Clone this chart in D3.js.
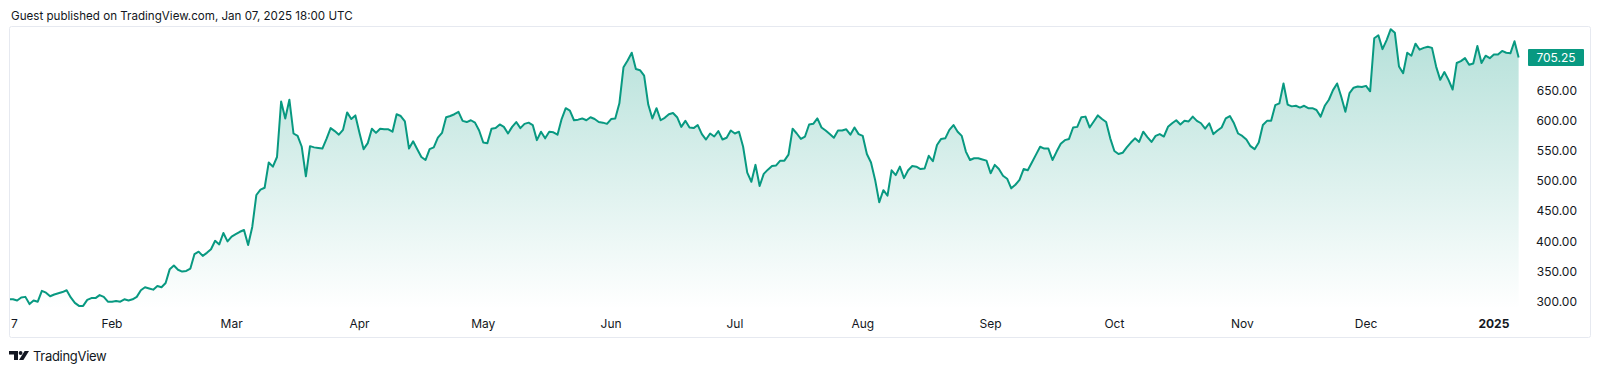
<!DOCTYPE html>
<html><head><meta charset="utf-8">
<script src="https://cdn.jsdelivr.net/npm/d3@7"></script>
<style>html,body{margin:0;padding:0;background:#fff;overflow:hidden}svg{display:block;font-family:Inter,"Noto Sans",sans-serif}</style>
</head><body><svg id="c" width="1600" height="372"></svg>
<script>
// ---- data ----
const startDate = "2024-01-07";
const closes = [
304,304,302,307,308,296,302,300,318,315,
309,312,314,316,319,307,298,293,293,303,
306,306,311,308,300,300,301,300,304,302,
304,308,319,324,322,320,326,324,331,354,
360,353,350,351,355,379,383,376,381,387,
401,395,414,400,408,412,416,419,394,424,
477,486,489,531,524,540,632,604,635,579,
575,557,508,558,556,555,554,570,588,583,
577,585,614,603,609,580,553,563,587,580,
587,586,586,582,611,608,599,554,566,553,
540,535,553,556,572,580,606,608,611,615,
600,598,601,597,584,564,563,587,588,594,
590,579,590,598,588,595,597,593,568,582,
571,582,581,577,603,621,617,601,602,604,
601,606,603,598,597,595,603,604,629,689,
700,713,686,684,675,627,604,621,601,605,
611,613,606,590,600,589,588,593,578,569,
579,574,583,569,572,584,579,582,557,514,
499,527,492,512,519,525,526,534,534,544,
587,579,570,574,594,595,604,589,584,578,
572,584,584,586,577,589,578,575,545,531,
502,465,485,476,518,510,524,505,518,525,
524,520,521,542,533,560,570,571,585,593,
582,575,549,535,538,538,536,534,513,527,
520,509,504,488,494,502,520,518,531,544,
557,554,554,535,549,562,568,570,589,590,
606,607,589,599,609,603,598,571,550,545,
547,556,564,571,565,582,573,565,575,578,
574,590,596,601,594,600,599,607,600,596,
587,596,578,584,589,604,608,596,579,575,
569,558,553,564,593,600,600,626,629,662,
627,624,625,622,625,621,621,618,607,625,
635,651,662,640,615,646,655,657,656,658,
649,737,742,719,734,752,746,690,679,713,
708,728,718,721,723,721,690,668,681,668,
652,696,699,704,693,695,724,696,708,704,
710,710,716,713,712,732,705.25
];
const yTickValues = [300,350,400,450,500,550,600,650];
const xTickDates = ["2024-01-07","2024-02-01","2024-03-01","2024-04-01","2024-05-01","2024-06-01","2024-07-01","2024-08-01","2024-09-01","2024-10-01","2024-11-01","2024-12-01","2025-01-01"];
const xTickLabels = ["7","Feb","Mar","Apr","May","Jun","Jul","Aug","Sep","Oct","Nov","Dec","2025"];
const lastPrice = 705.25;
const headerText = "Guest published on TradingView.com, Jan 07, 2025 18:00 UTC";
const brandText = "TradingView";

// ---- chart ----
const svg = d3.select("#c");
const lineColor = "#089981";
const textColor = "#131722";
const frame = {x:9.5, y:26.5, w:1581, h:311};
const paneBottom = 309;
const parse = d3.utcParse("%Y-%m-%d");
const start = parse(startDate);
const data = closes.map((v,i)=>({date:d3.utcDay.offset(start,i), v}));

const x = d3.scaleUtc().domain([parse("2024-02-01"), parse("2024-12-01")]).range([112,1366]);
const y = d3.scaleLinear().domain([300,650]).range([301.7,90.7]);

svg.append("text").attr("x",11).attr("y",19.5).attr("fill",textColor)
  .attr("font-size",11.6).text(headerText);

svg.append("rect").attr("x",frame.x).attr("y",frame.y).attr("width",frame.w).attr("height",frame.h)
  .attr("fill","#fff").attr("stroke","#e6e9f0").attr("stroke-width",1).attr("rx",2);

const defs = svg.append("defs");
const grad = defs.append("linearGradient").attr("id","g").attr("gradientUnits","userSpaceOnUse")
  .attr("x1",0).attr("x2",0).attr("y1",y(750)).attr("y2",paneBottom);
grad.append("stop").attr("offset",0).attr("stop-color",lineColor).attr("stop-opacity",0.30);
grad.append("stop").attr("offset",1).attr("stop-color",lineColor).attr("stop-opacity",0.0);
defs.append("clipPath").attr("id","clip").append("rect")
  .attr("x",10).attr("y",27).attr("width",1515).attr("height",paneBottom-27);

const g = svg.append("g").attr("clip-path","url(#clip)");
g.append("path").datum(data)
  .attr("d", d3.area().x(d=>x(d.date)).y0(paneBottom).y1(d=>y(d.v)))
  .attr("fill","url(#g)");
g.append("path").datum(data)
  .attr("d", d3.line().x(d=>x(d.date)).y(d=>y(d.v)))
  .attr("fill","none").attr("stroke",lineColor).attr("stroke-width",2).attr("stroke-linejoin","round");

// y axis labels
const yAxis = svg.append("g");
yAxis.selectAll("text").data(yTickValues).join("text")
  .attr("x",1577).attr("y",d=>y(d)).attr("dy","0.35em").attr("text-anchor","end")
  .attr("font-size",12).attr("fill",textColor).text(d=>d3.format(".2f")(d));

// last price label
const ly = y(lastPrice);
svg.append("rect").attr("x",1528).attr("y",ly-8.5).attr("width",56).attr("height",17)
  .attr("fill",lineColor).attr("rx",1);
svg.append("text").attr("x",1556).attr("y",ly).attr("dy","0.35em").attr("text-anchor","middle")
  .attr("font-size",12).attr("fill","#fff").text(d3.format(".2f")(lastPrice));

// x axis labels
const xa = svg.append("g");
xTickDates.forEach((ds,i)=>{
  const t = xa.append("text").attr("y",324).attr("dy","0.35em").attr("text-anchor","middle")
    .attr("font-size",12).attr("fill",textColor)
    .attr("font-weight", xTickLabels[i]==="2025" ? 700 : 400).text(xTickLabels[i]);
  const w = t.node().getComputedTextLength();
  t.attr("x", Math.max(x(parse(ds)), 10 + w/2 + 1));
});

// brand
const logo = svg.append("g").attr("fill",textColor);
logo.append("path").attr("d","M9,351 H18 V360 H14 V354.5 H9 Z");
logo.append("circle").attr("cx",20.6).attr("cy",353).attr("r",1.9);
logo.append("path").attr("d","M19,360 L24.6,351 H29 L23.4,360 Z");
svg.append("text").attr("x",33).attr("y",360.5).attr("font-size",13).attr("letter-spacing",-0.3)
  .attr("fill",textColor).text(brandText);
</script></body></html>
